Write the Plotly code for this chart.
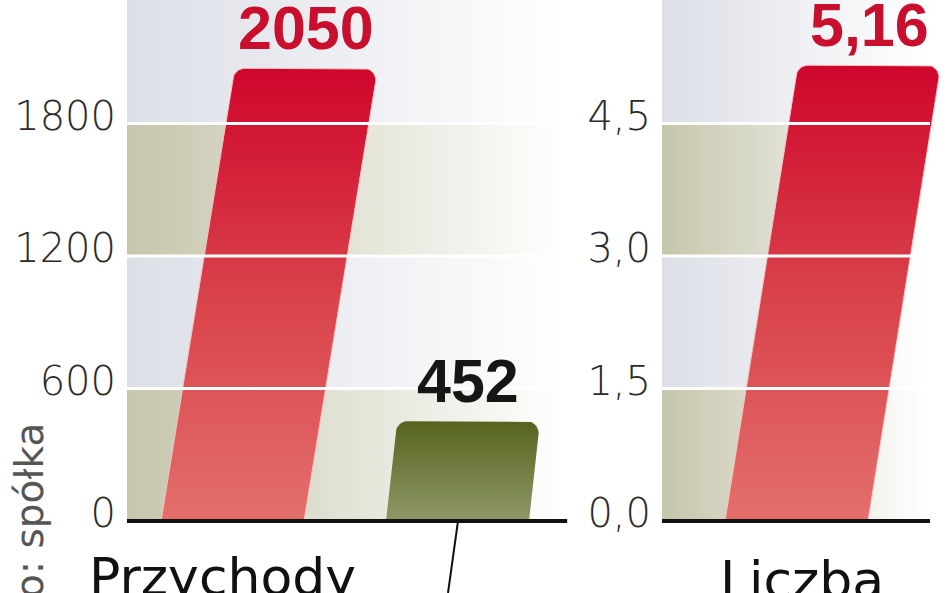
import numpy as np
import plotly.graph_objects as go

# ---------------- data ----------------
revenue_categories = ["A", "B"]
revenue_values = [2050, 452]
revenue_labels = ["2050", "452"]
count_categories = ["A"]
count_values = [5.16]
count_labels = ["5,16"]
left_tickvals = [0, 600, 1200, 1800, 2400]
left_ticktext = ["0", "600", "1200", "1800", "2400"]
right_tickvals = [0, 1.5, 3.0, 4.5, 6.0]
right_ticktext = ["0,0", "1,5", "3,0", "4,5", "6,0"]
panel_titles = ["Przychody", "Liczba"]
source_text = "Źródło: spółka"

# ---------------- layout constants ----------------
W, H = 948, 593
ZERO_PX = 521          # pixel row of value 0
STEP_PX = 132.5        # pixels per tick step
CAT_PX = 225           # pixels per category unit
LEFT_DOM = (127, 565)
RIGHT_DOM = (662, 948)
LEFT_CENTER0 = 232.5   # bottom centre of first bar (px)
RIGHT_CENTER0 = 796.5
BAR_W_PX = 143
RADIUS_PX = 12

ky_left = STEP_PX / 600.0
ky_right = STEP_PX / 1.5

def yrange(ky):
    return [-(H - ZERO_PX) / ky, ZERO_PX / ky]

def xrange(dom, c0):
    return [(dom[0] - c0) / CAT_PX, (dom[1] - c0) / CAT_PX]

left_xr = xrange(LEFT_DOM, LEFT_CENTER0)
right_xr = xrange(RIGHT_DOM, RIGHT_CENTER0)
left_yr = yrange(ky_left)
right_yr = yrange(ky_right)

RED_SCALE = [[0, "#e36f6c"], [0.5, "#d9424a"], [1, "#cf062c"]]
GREEN_SCALE = [[0, "#8e9868"], [1, "#56641e"]]
BEIGE = "#c6c6ad"
GREY = "#dcdfe6"

fig = go.Figure()


def background(xr, step, xref, yref, fade_end):
    n = 90
    xe = np.linspace(xr[0], xr[1], n + 1)
    t = np.clip((np.arange(n) + 0.5) / n / fade_end, 0, 1)
    ye = [0, step, 2 * step, 3 * step, 4 * step]
    z = np.array([t, 2 + t, t, 2 + t])
    fig.add_trace(go.Heatmap(
        x=xe, y=ye, z=z, zmin=0, zmax=3,
        colorscale=[[0, BEIGE], [1 / 3, "#ffffff"], [2 / 3, GREY], [1, "#ffffff"]],
        showscale=False, hoverinfo="skip", xaxis=xref, yaxis=yref))


background(left_xr, left_tickvals[1], "x", "y", 1.0)
background(right_xr, right_tickvals[1], "x2", "y2", 0.93)


def bar_shape(xc, v, ky, slant):
    h = v * ky
    w = BAR_W_PX
    r = RADIUS_PX
    pts = [(-w / 2, 0.0), (-w / 2 + slant * (h - r), h - r)]
    cx = -w / 2 + slant * (h - r) + r
    for a in np.linspace(np.pi, np.pi / 2, 10):
        pts.append((cx + r * np.cos(a), h - r + r * np.sin(a)))
    cx2 = w / 2 + slant * (h - r) - r
    for a in np.linspace(np.pi / 2, 0, 10):
        pts.append((cx2 + r * np.cos(a), h - r + r * np.sin(a)))
    pts.append((w / 2, 0.0))
    pts.append((-w / 2, 0.0))
    xs = [xc + p[0] / CAT_PX for p in pts]
    ys = [p[1] / ky for p in pts]
    top_x = xc + slant * h / CAT_PX
    return xs, ys, top_x


bar_specs = [
    (revenue_values, ky_left, ("x", "y"), [0.163, 0.11], [RED_SCALE, GREEN_SCALE],
     ["#c8102e", "#161616"], revenue_labels, ["#f4c4c4", "rgba(0,0,0,0)"]),
    (count_values, ky_right, ("x2", "y2"), [0.16], [RED_SCALE],
     ["#c8102e"], count_labels, ["#f4c4c4"]),
]

annotations = []
for values, ky, (xa, ya), slants, scales, lcols, labels, outlines in bar_specs:
    for i, v in enumerate(values):
        xs, ys, top_x = bar_shape(i, v, ky, slants[i])
        fig.add_trace(go.Scatter(
            x=xs, y=ys, mode="lines", fill="toself",
            fillgradient=dict(type="vertical", colorscale=scales[i]),
            line=dict(color=outlines[i], width=1),
            hoverinfo="skip", showlegend=False, xaxis=xa, yaxis=ya))
        annotations.append(dict(
            x=top_x, y=v, xref=xa, yref=ya, text=labels[i], showarrow=False,
            xanchor="center", yanchor="bottom", yshift=4,
            font=dict(family="Liberation Sans Narrow, Arial Narrow, Liberation Sans, sans-serif",
                      size=61, color=lcols[i], weight="bold")))

shapes = []
for val in left_tickvals[1:]:
    shapes.append(dict(type="line", xref="x domain", yref="y", x0=0, x1=1, y0=val, y1=val,
                       line=dict(color="white", width=3), layer="above"))
for val in right_tickvals[1:]:
    shapes.append(dict(type="line", xref="x2 domain", yref="y2", x0=0, x1=(930 - 662) / (948 - 662),
                       y0=val, y1=val, line=dict(color="white", width=3), layer="above"))
shapes.append(dict(type="line", xref="x domain", yref="y", x0=0, x1=1.005, y0=0, y1=0,
                   line=dict(color="#111111", width=4), layer="above"))
shapes.append(dict(type="line", xref="x2 domain", yref="y2", x0=0, x1=(930 - 662) / (948 - 662),
                   y0=0, y1=0, line=dict(color="#111111", width=4), layer="above"))
shapes.append(dict(type="line", xref="paper", yref="paper",
                   x0=458 / W, y0=1 - 521 / H, x1=448 / W, y1=0,
                   line=dict(color="#111111", width=2)))

tick_font = dict(family="DejaVu Sans, sans-serif", size=40, color="#2b2b2b", weight=300)
LABEL_SHIFT = -8

annotations.append(dict(x=0, xref="x domain", y=left_tickvals[-1], yref="y", text=left_ticktext[-1],
                        showarrow=False, xanchor="right", yanchor="middle", xshift=-10,
                        yshift=-LABEL_SHIFT, font=tick_font))
annotations.append(dict(x=0, xref="x2 domain", y=right_tickvals[-1], yref="y2", text=right_ticktext[-1],
                        showarrow=False, xanchor="right", yanchor="middle", xshift=-10,
                        yshift=-LABEL_SHIFT, font=tick_font))

title_font = dict(family="DejaVu Sans, sans-serif", size=52, color="#111111")
annotations.append(dict(x=87 / W, y=1 - 545 / H, xref="paper", yref="paper", text=panel_titles[0],
                        showarrow=False, xanchor="left", yanchor="top", font=title_font))
annotations.append(dict(x=718 / W, y=1 - 548 / H, xref="paper", yref="paper", text=panel_titles[1],
                        showarrow=False, xanchor="left", yanchor="top", font=title_font))
annotations.append(dict(x=28 / W, y=1 - 421 / H, xref="paper", yref="paper", text=source_text,
                        showarrow=False, textangle=-90, xanchor="center", yanchor="top",
                        font=dict(family="DejaVu Sans, sans-serif", size=39, color="#555555")))

axis_common = dict(showgrid=False, zeroline=False, showline=False, fixedrange=True, automargin=False)

fig.update_layout(
    width=W, height=H, margin=dict(l=0, r=0, t=0, b=0, pad=0, autoexpand=False),
    paper_bgcolor="white", plot_bgcolor="white", showlegend=False,
    xaxis=dict(domain=[LEFT_DOM[0] / W, LEFT_DOM[1] / W], range=left_xr,
               showticklabels=False, **axis_common),
    yaxis=dict(domain=[0, 1], range=left_yr, tickvals=left_tickvals[:-1],
               ticktext=left_ticktext[:-1], ticks="", ticklabelstandoff=10,
               ticklabelshift=LABEL_SHIFT, tickfont=tick_font, anchor="x", **axis_common),
    xaxis2=dict(domain=[RIGHT_DOM[0] / W, RIGHT_DOM[1] / W], range=right_xr,
                showticklabels=False, anchor="y2", **axis_common),
    yaxis2=dict(domain=[0, 1], range=right_yr, tickvals=right_tickvals[:-1],
                ticktext=right_ticktext[:-1], ticks="", ticklabelstandoff=10,
                ticklabelshift=LABEL_SHIFT, tickfont=tick_font, anchor="x2", **axis_common),
    shapes=shapes, annotations=annotations,
)

fig.write_html("out.html", config={"displayModeBar": False},
               post_script="document.body.style.margin='0';document.body.style.overflow='hidden';")
